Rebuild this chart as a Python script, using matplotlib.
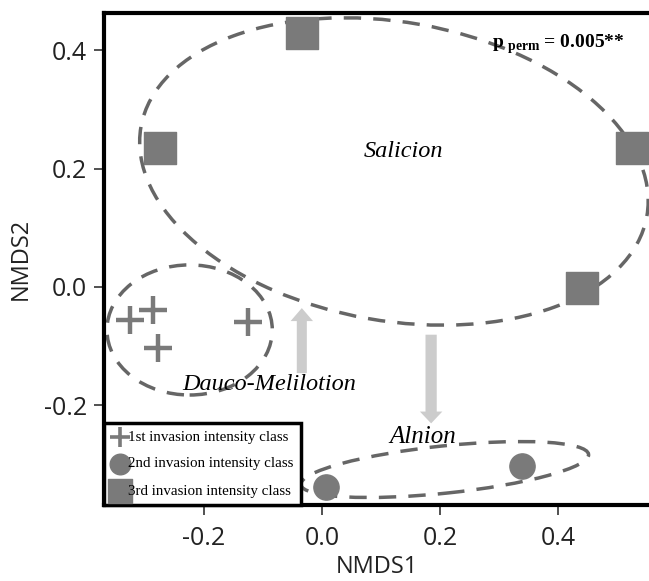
import matplotlib.pyplot as plt
from matplotlib.patches import Ellipse

plt.rcParams["mathtext.fontset"] = "custom"
plt.rcParams["mathtext.rm"] = "Liberation Serif"
plt.rcParams["mathtext.bf"] = "Liberation Serif:bold"

# data
plus_x = [-0.325, -0.286, -0.278, -0.125]
plus_y = [-0.056, -0.039, -0.103, -0.059]
circ_x = [0.007, 0.339]
circ_y = [-0.339, -0.303]
sq_x = [-0.034, -0.275, 0.525, 0.441]
sq_y = [0.429, 0.234, 0.234, -0.002]

labels = ["1st invasion intensity class", "2nd invasion intensity class",
          "3rd invasion intensity class"]

grey = "#7a7a7a"
dash = "#666666"
serif = "Liberation Serif"

fig = plt.figure(figsize=(6.49, 5.81), dpi=100)
ax = fig.add_axes([104 / 649, 1 - 505 / 581, 1 - 104 / 649, 492 / 581])
ax.set_xlim(-0.369, 0.554)
ax.set_ylim(-0.369, 0.463)

ax.scatter(plus_x, plus_y, marker="+", s=380, linewidths=3.2, color=grey, zorder=3)
ax.scatter(circ_x, circ_y, marker="o", s=330, color=grey, zorder=3)
ax.scatter(sq_x, sq_y, marker="s", s=540, color=grey, zorder=3)

# group ellipses
for c, w, h, a in [((0.122, 0.195), 0.87, 0.505, -10),
                   ((-0.224, -0.073), 0.28, 0.22, 0),
                   ((0.208, -0.309), 0.49, 0.08, 6)]:
    ax.add_patch(Ellipse(c, w, h, angle=a, fill=False, ec=dash, lw=2.5,
                         ls=(0, (5, 3.5)), zorder=2))

# arrows between groups
ax.arrow(-0.034, -0.146, 0, 0.110, width=0.017, head_width=0.038,
         head_length=0.022, length_includes_head=True, color="#cccccc", lw=0)
ax.arrow(0.185, -0.081, 0, -0.150, width=0.019, head_width=0.038,
         head_length=0.02, length_includes_head=True, color="#cccccc", lw=0)

ax.text(0.138, 0.229, "Salicion", fontsize=17.5, style="italic", family=serif,
        ha="center", va="center")
ax.text(-0.090, -0.166, "Dauco-Melilotion", fontsize=17.5, style="italic",
        family=serif, ha="center", va="center")
ax.text(0.170, -0.254, "Alnion", fontsize=18, style="italic", family=serif,
        ha="center", va="center")
ax.text(0.288, 0.41, r"$\mathbf{p}_{\ \mathbf{perm}}$ = 0.005**", fontsize=14,
        weight="bold", family=serif, ha="left", va="center")

h1 = ax.scatter([], [], marker="+", s=220, linewidths=2.6, color=grey)
h2 = ax.scatter([], [], marker="o", s=220, color=grey)
h3 = ax.scatter([], [], marker="s", s=300, color=grey)
leg = ax.legend([h1, h2, h3], labels, loc="lower left", bbox_to_anchor=(0, 0),
                prop={"family": serif, "size": 10.8}, handletextpad=0.0,
                handlelength=1.1, borderpad=0.5, labelspacing=0.9,
                borderaxespad=0, fancybox=False, framealpha=1, edgecolor="black")
leg.get_frame().set_linewidth(2.5)

for s in ["left", "top", "bottom"]:
    ax.spines[s].set_linewidth(3)
ax.spines["right"].set_visible(False)

ax.set_xticks([-0.2, 0.0, 0.2, 0.4])
ax.set_yticks([-0.2, 0.0, 0.2, 0.4])
ax.set_xticklabels(["-0.2", "0.0", "0.2", "0.4"])
ax.set_yticklabels(["-0.2", "0.0", "0.2", "0.4"])
ax.tick_params(labelsize=18, length=7, width=1.2, pad=5, color="#333333",
               labelcolor="#222222")
ax.tick_params(axis="x", pad=8)
for t in ax.get_xticklabels() + ax.get_yticklabels():
    t.set_family("Open Sans")
ax.set_xlabel("NMDS1", fontsize=17, family="Open Sans", color="#222222", labelpad=3)
ax.set_ylabel("NMDS2", fontsize=17, family="Open Sans", color="#222222", labelpad=8)

fig.savefig("out.png", dpi=100)
